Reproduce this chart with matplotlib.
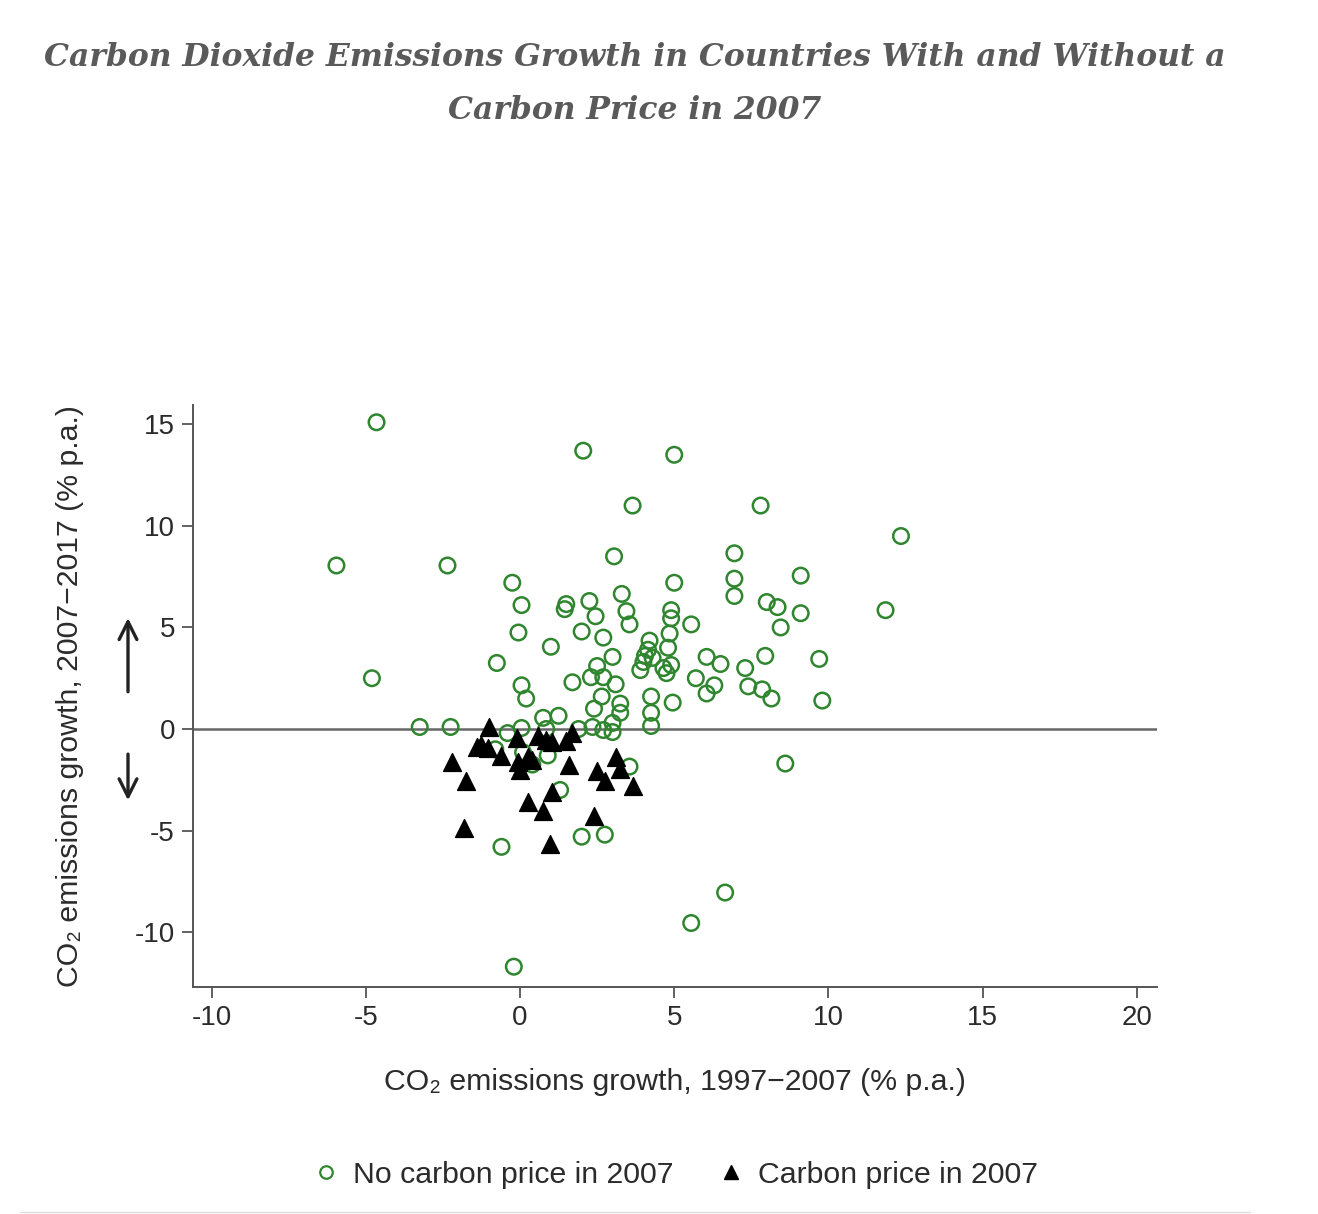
import matplotlib
matplotlib.use("Agg")
import matplotlib.pyplot as plt
from matplotlib.lines import Line2D

# ---- data: (1997-2007 growth, 2007-2017 growth) ----
no_price_x = [-4.65, 2.05, 5.0, 3.65, 7.8, 12.35, -5.95, -2.35, 3.05, 6.95,
              -0.25, 5.0, 6.95, 9.1, 6.95, 3.3, 2.25, 0.05, 1.5, 1.45,
              8.0, 8.35, 9.1, 11.85, 3.45, 2.45, 3.55, 4.9, 4.9, 5.55,
              8.45, -0.05, 2.0, 2.7, 1.0, 4.2, 4.85, 4.8, 4.15, 4.05,
              4.0, 3.9, 4.3, 3.0, 2.5, -0.75, 6.05, 7.95, 6.5, 7.3,
              9.7, 4.9, 4.75, 4.65, 2.3, 2.7, 3.1, 1.7, -4.8, 0.05,
              5.7, 6.3, 6.05, 7.4, 7.85, 0.2, 2.65, 4.25, 8.15, 9.8,
              4.95, 3.25, 2.4, 3.25, 4.25, 0.75, 1.25, -3.25, -2.25, -0.4,
              0.05, 0.85, 1.9, 2.35, 2.7, 3.0, 3.0, 4.25, 0.9, 0.1,
              -0.8, 0.4, 3.55, 8.6, 1.3, -0.6, 2.0, 2.75, 6.65, 5.55,
              -0.2]
no_price_y = [15.1, 13.7, 13.5, 11.0, 11.0, 9.5, 8.05, 8.05, 8.5, 8.65,
              7.2, 7.2, 7.4, 7.55, 6.55, 6.65, 6.3, 6.1, 6.15, 5.9,
              6.25, 6.0, 5.7, 5.85, 5.8, 5.55, 5.15, 5.85, 5.45, 5.15,
              5.0, 4.75, 4.8, 4.5, 4.05, 4.35, 4.7, 4.0, 3.9, 3.6,
              3.3, 2.9, 3.5, 3.55, 3.1, 3.25, 3.55, 3.6, 3.2, 3.0,
              3.45, 3.15, 2.75, 3.0, 2.55, 2.55, 2.2, 2.3, 2.5, 2.15,
              2.5, 2.15, 1.75, 2.1, 1.95, 1.5, 1.6, 1.6, 1.5, 1.4,
              1.3, 1.25, 1.0, 0.8, 0.8, 0.55, 0.65, 0.1, 0.1, -0.2,
              0.05, 0.0, 0.0, 0.1, -0.05, 0.3, -0.15, 0.15, -1.3, -1.15,
              -1.0, -1.75, -1.85, -1.7, -3.0, -5.8, -5.3, -5.2, -8.05, -9.55,
              -11.7]

price_x = [-2.2, -1.75, -1.8, -1.0, -1.25, -1.05, -1.4, -0.6, -0.1, -0.05,
           0.0, 0.25, 0.4, 0.6, 0.85, 1.05, 1.5, 1.7, 1.6, 1.05,
           0.25, 0.75, 0.97, 2.5, 2.75, 3.1, 3.25, 3.65, 2.4]
price_y = [-1.6, -2.55, -4.85, 0.1, -0.8, -0.95, -0.9, -1.35, -0.45, -1.6,
           -2.0, -1.4, -1.55, -0.35, -0.55, -0.65, -0.6, -0.2, -1.75, -3.1,
           -3.6, -4.05, -5.65, -2.05, -2.55, -1.4, -1.95, -2.8, -4.3]

x_ticks = [-10, -5, 0, 5, 10, 15, 20]
y_ticks = [-10, -5, 0, 5, 10, 15]

title = "Carbon Dioxide Emissions Growth in Countries With and Without a\nCarbon Price in 2007"
xlabel = "CO\u2082 emissions growth, 1997\u22122007 (% p.a.)"
ylabel = "CO\u2082 emissions growth, 2007\u22122017 (% p.a.)"
legend_labels = ["No carbon price in 2007", "Carbon price in 2007"]

# ---- styling ----
W, H = 1318, 1214
plt.rcParams['font.family'] = ['Liberation Sans', 'DejaVu Sans']
fig = plt.figure(figsize=(W / 100, H / 100), dpi=100)
ax = fig.add_axes([193 / W, 1 - 987 / H, (1157 - 193) / W, (987 - 405) / H])

green = "#2f862f"
text_col = "#2b2b2b"
spine_col = "#555555"
FS_TICK = 20
FS_LAB = 21.8

ax.axhline(0, color="#666666", lw=1.8, zorder=1)

ax.scatter(no_price_x, no_price_y, s=125, facecolors="none", edgecolors=green,
           linewidths=1.8, zorder=2)
ax.scatter(price_x, price_y, marker="^", s=165, color="black", zorder=3)

ax.set_xlim(-10.6, 20.65)
ax.set_ylim(-12.7, 15.95)
ax.set_xticks(x_ticks)
ax.set_yticks(y_ticks)
ax.set_xticklabels([str(t) for t in x_ticks])
ax.set_yticklabels([str(t) for t in y_ticks])

for s in ["top", "right"]:
    ax.spines[s].set_visible(False)
for s in ["left", "bottom"]:
    ax.spines[s].set_color(spine_col)
    ax.spines[s].set_linewidth(1.4)
ax.tick_params(axis="both", direction="out", length=8, width=1.3,
               color=spine_col, labelsize=FS_TICK, labelcolor=text_col, pad=5)

ax.set_xlabel(xlabel, fontsize=FS_LAB, color=text_col)
ax.set_ylabel(ylabel, fontsize=FS_LAB, color=text_col)
ax.xaxis.label.set_va("center")
ax.yaxis.label.set_va("center")
ax.xaxis.set_label_coords(0.5, (987 - 1082) / 582)
ax.yaxis.set_label_coords((70 - 193) / 964, 0.5)

# arrows on the left side
arrow_kw = dict(arrowstyle="->", lw=2.4, color="#222222", mutation_scale=32)
ax.annotate("", xy=(128 / W, 5.6), xytext=(128 / W, 1.7),
            xycoords=("figure fraction", "data"),
            textcoords=("figure fraction", "data"),
            arrowprops=arrow_kw, annotation_clip=False)
ax.annotate("", xy=(128 / W, -3.65), xytext=(128 / W, -1.1),
            xycoords=("figure fraction", "data"),
            textcoords=("figure fraction", "data"),
            arrowprops=arrow_kw, annotation_clip=False)

# title
fig.text(635 / W, 1 - 84 / H, title, ha="center", va="center",
         fontsize=22.6, fontweight="bold", fontstyle="italic",
         family="DejaVu Serif", color="#5a5a5a", linespacing=1.95)

# legend
handles = [
    Line2D([], [], marker="o", ls="none", markersize=9, markerfacecolor="none",
           markeredgecolor=green, markeredgewidth=1.6),
    Line2D([], [], marker="^", ls="none", markersize=10, color="black"),
]
fig.legend(handles, legend_labels, loc="center", ncol=2,
           bbox_to_anchor=(673 / W, 1 - 1175 / H), frameon=False,
           fontsize=FS_LAB, handletextpad=0.3, columnspacing=1.3,
           handlelength=1.2, labelcolor=text_col)

# bottom separator
fig.add_artist(Line2D([20 / W, 1250 / W], [1 - 1212 / H, 1 - 1212 / H],
                      color="#dddddd", lw=1))

fig.savefig("out.png", dpi=100)
